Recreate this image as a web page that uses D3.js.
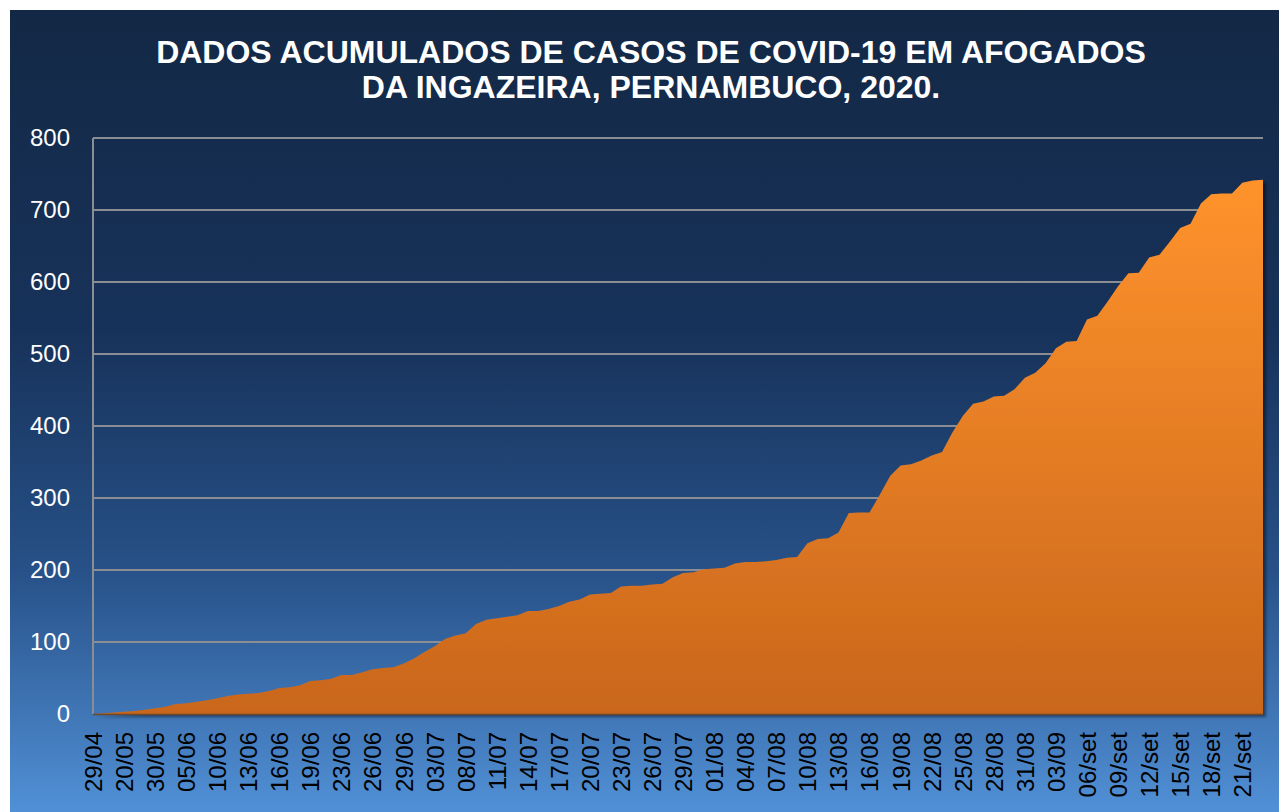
<!DOCTYPE html>
<html>
<head>
<meta charset="utf-8">
<script src="https://cdn.jsdelivr.net/npm/d3@7"></script>
<style>
  html, body { margin: 0; padding: 0; background: #ffffff; }
  svg { display: block; }
  text { font-family: "Liberation Sans", Arial, sans-serif; }
</style>
</head>
<body>
<svg id="chart" width="1279" height="812"></svg>
<script>
// ---------- DATA ----------
const titleLines = [
  "DADOS ACUMULADOS DE CASOS DE COVID-19 EM AFOGADOS",
  "DA INGAZEIRA, PERNAMBUCO, 2020."
];

const dates = [
  "29/04","05/05","13/05","20/05","22/05","26/05","30/05","01/06","03/06","05/06",
  "08/06","09/06","10/06","11/06","12/06","13/06","14/06","15/06","16/06","17/06",
  "18/06","19/06","20/06","22/06","23/06","24/06","25/06","26/06","27/06","28/06",
  "29/06","30/06","01/07","03/07","06/07","07/07","08/07","09/07","10/07","11/07",
  "12/07","13/07","14/07","15/07","16/07","17/07","18/07","19/07","20/07","21/07",
  "22/07","23/07","24/07","25/07","26/07","27/07","28/07","29/07","30/07","31/07",
  "01/08","02/08","03/08","04/08","05/08","06/08","07/08","08/08","09/08","10/08",
  "11/08","12/08","13/08","14/08","15/08","16/08","17/08","18/08","19/08","20/08",
  "21/08","22/08","23/08","24/08","25/08","26/08","27/08","28/08","29/08","30/08",
  "31/08","01/09","02/09","03/09","04/09","05/09","06/set","07/set","08/set","09/set",
  "10/set","11/set","12/set","13/set","14/set","15/set","16/set","17/set","18/set","19/set",
  "20/set","21/set","22/set","23/set"
];

const cases = [
  0, 1, 2, 3, 4, 6, 8, 10, 14, 15,
  17, 19, 22, 25, 27, 28, 29, 32, 36, 37,
  40, 46, 47, 49, 54, 54, 58, 62, 64, 65,
  70, 77, 86, 94, 104, 109, 112, 125, 131, 133,
  135, 137, 143, 143, 146, 150, 156, 159, 166, 167,
  168, 177, 178, 178, 180, 181, 190, 196, 197, 201,
  202, 203, 209, 211, 211, 212, 214, 217, 218, 237,
  243, 244, 252, 279, 280, 280, 305, 331, 345, 347,
  352, 359, 364, 391, 414, 431, 434, 441, 442, 451,
  467, 474, 487, 508, 517, 518, 548, 553, 573, 594,
  612, 613, 634, 638, 656, 675, 681, 709, 722, 723,
  723, 738, 741, 742
];

const xTickLabels = [
  "29/04","20/05","30/05","05/06","10/06","13/06","16/06","19/06","23/06","26/06",
  "29/06","03/07","08/07","11/07","14/07","17/07","20/07","23/07","26/07","29/07",
  "01/08","04/08","07/08","10/08","13/08","16/08","19/08","22/08","25/08","28/08",
  "31/08","03/09","06/set","09/set","12/set","15/set","18/set","21/set"
];

const yTicks = [0, 100, 200, 300, 400, 500, 600, 700, 800];

// ---------- CHART ----------
const W = 1279, H = 812;
const svg = d3.select("#chart");
const plot = { left: 93, right: 1263, top: 138, bottom: 714 };

const defs = svg.append("defs");

const bg = defs.append("linearGradient").attr("id", "bgGrad")
  .attr("x1", 0).attr("y1", 0).attr("x2", 0).attr("y2", 1);
[["0%", "#132845"], ["40%", "#17325a"], ["70%", "#275188"], ["100%", "#5190d6"]]
  .forEach(([o, c]) => bg.append("stop").attr("offset", o).attr("stop-color", c));

const ag = defs.append("linearGradient").attr("id", "areaGrad")
  .attr("gradientUnits", "userSpaceOnUse")
  .attr("x1", 0).attr("y1", 180).attr("x2", 0).attr("y2", plot.bottom);
[["0%", "#ff932c"], ["100%", "#c9661c"]]
  .forEach(([o, c]) => ag.append("stop").attr("offset", o).attr("stop-color", c));

const shadow = defs.append("filter").attr("id", "shadow")
  .attr("x", "-5%").attr("y", "-5%").attr("width", "110%").attr("height", "115%");
shadow.append("feDropShadow").attr("dx", 3).attr("dy", 3).attr("stdDeviation", 1.5)
  .attr("flood-color", "#000").attr("flood-opacity", 0.45);

// panel background
svg.append("rect").attr("x", 10).attr("y", 10).attr("width", W - 10).attr("height", H - 10)
  .attr("fill", "url(#bgGrad)");

// title
const title = svg.append("text")
  .attr("x", 651).attr("text-anchor", "middle")
  .attr("fill", "#ffffff").attr("font-weight", "bold").attr("font-size", 32);
titleLines.forEach((t, i) => {
  title.append("tspan").attr("x", 651).attr("y", 63 + i * 35).text(t);
});

const x = d3.scalePoint().domain(dates).range([plot.left, plot.right]);
const y = d3.scaleLinear().domain([0, 800]).range([plot.bottom, plot.top]);

// gridlines
svg.append("g").selectAll("line").data(yTicks.filter(d => d > 0)).join("line")
  .attr("x1", plot.left).attr("x2", plot.right)
  .attr("y1", d => y(d)).attr("y2", d => y(d))
  .attr("stroke", "#8a8d92").attr("stroke-width", 2);

// area
const area = d3.area()
  .x((d, i) => x(dates[i]))
  .y0(y(0))
  .y1(d => y(d));

svg.append("path").datum(cases)
  .attr("d", area)
  .attr("fill", "url(#areaGrad)")
  .attr("filter", "url(#shadow)");

// axis lines
svg.append("line").attr("x1", plot.left).attr("x2", plot.left)
  .attr("y1", plot.top).attr("y2", plot.bottom)
  .attr("stroke", "#8a8d92").attr("stroke-width", 2);
svg.append("line").attr("x1", plot.left).attr("x2", plot.right)
  .attr("y1", plot.bottom + 0.5).attr("y2", plot.bottom + 0.5)
  .attr("stroke", "#6a4a2a").attr("stroke-width", 1.5);

// y axis
const yAxis = d3.axisLeft(y).tickValues(yTicks).tickSize(0).tickPadding(23);
const gy = svg.append("g").attr("transform", `translate(${plot.left},0)`).call(yAxis);
gy.select(".domain").remove();
gy.selectAll("text").attr("fill", "#ffffff").attr("font-size", 24)
  .attr("font-family", "Liberation Sans, Arial, sans-serif");

// x axis
const xAxis = d3.axisBottom(x).tickValues(xTickLabels).tickSize(0);
const gx = svg.append("g").attr("transform", `translate(0,${plot.bottom})`).call(xAxis);
gx.select(".domain").remove();
gx.selectAll("text")
  .attr("fill", "#000000").attr("font-size", 24)
  .attr("font-family", "Liberation Sans, Arial, sans-serif")
  .attr("text-anchor", "end")
  .attr("transform", "rotate(-90)")
  .attr("x", -18).attr("y", 0).attr("dy", "0.35em");
</script>
</body>
</html>
